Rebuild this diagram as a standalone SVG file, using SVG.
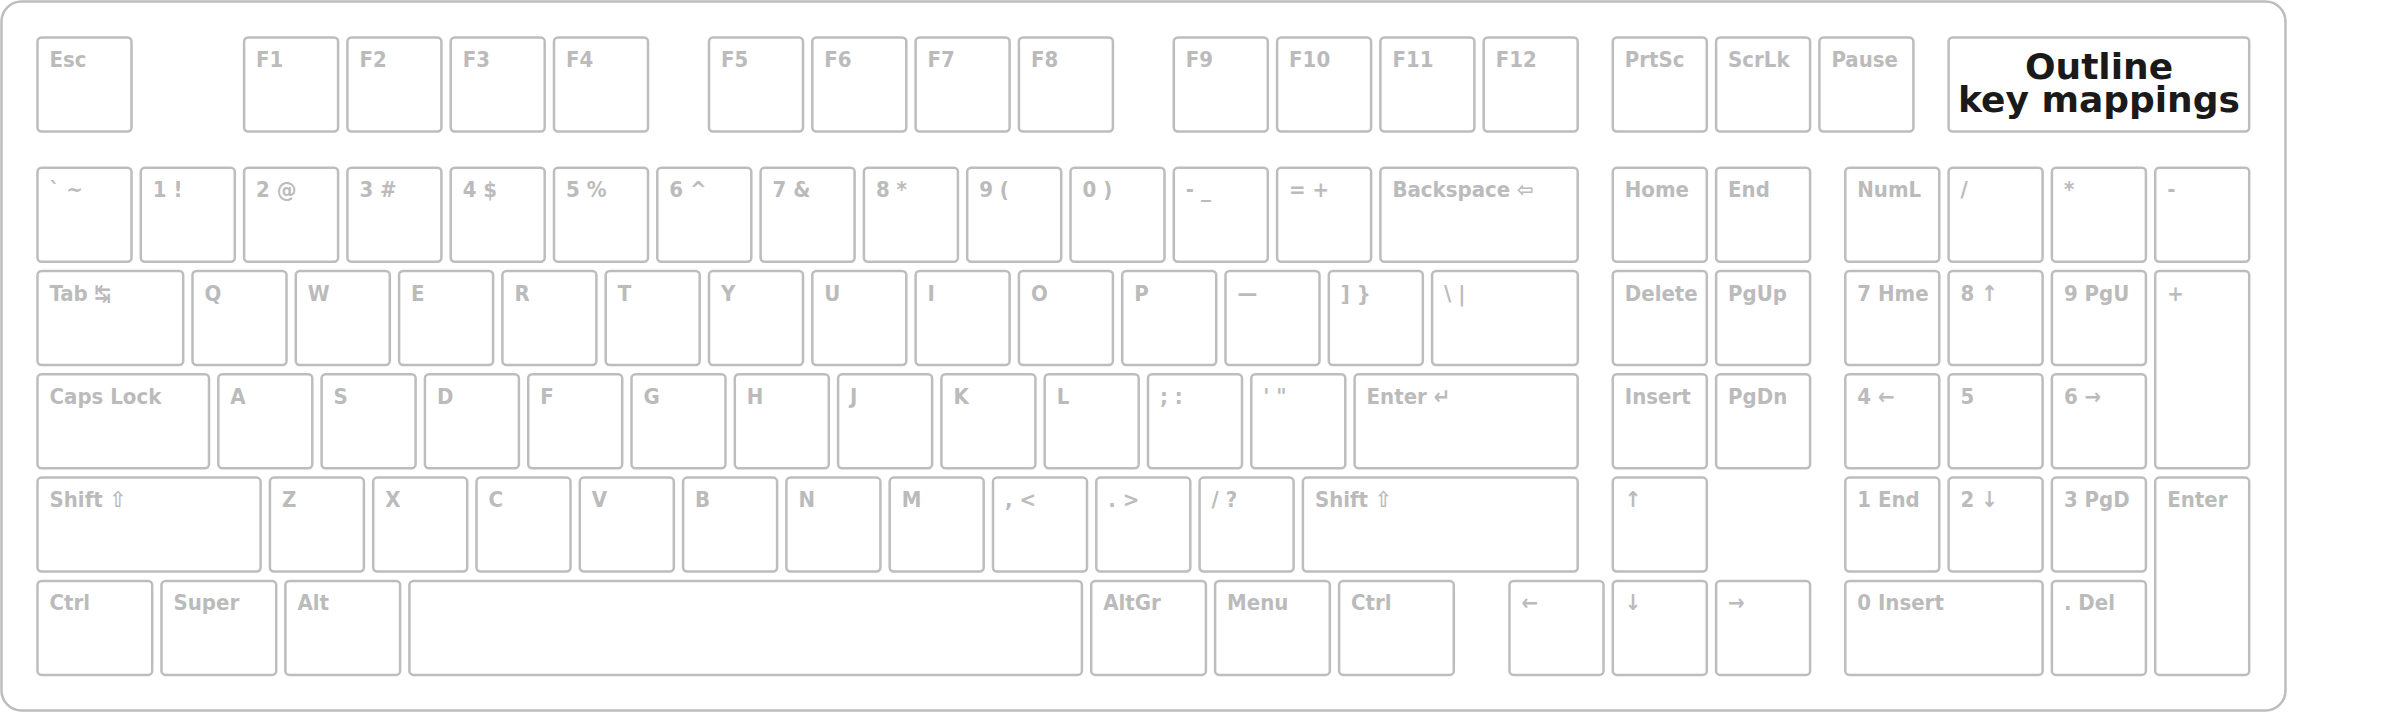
<svg xmlns="http://www.w3.org/2000/svg" width="2400" height="713" viewBox="0 0 2400 713">
<style>
.k rect{fill:#ffffff;stroke:#bdbdbd;stroke-width:2.5}
.k text{font-family:"DejaVu Sans Condensed","DejaVu Sans","Liberation Sans",sans-serif;font-stretch:condensed;font-weight:bold;font-size:22px;fill:#bbbbbb}
.title text{font-family:"DejaVu Sans","Liberation Sans",sans-serif;font-stretch:normal;font-weight:bold;font-size:36px;fill:#1a1a1a;text-anchor:middle}
</style>
<rect width="2400" height="713" fill="#ffffff"/>
<rect id="keyboard" x="1.5" y="1.5" width="2284" height="709" rx="20" fill="#ffffff" stroke="#bdbdbd" stroke-width="2.5"/>
<g id="connectors"/>
<!-- Function row -->
<g id="key-esc" class="k"><rect x="37.5" y="37.5" width="94" height="94" rx="4"/><text x="49.5" y="67">Esc</text></g>
<g id="key-f1" class="k"><rect x="244.1" y="37.5" width="94" height="94" rx="4"/><text x="256.1" y="67">F1</text></g>
<g id="key-f2" class="k"><rect x="347.4" y="37.5" width="94" height="94" rx="4"/><text x="359.4" y="67">F2</text></g>
<g id="key-f3" class="k"><rect x="450.7" y="37.5" width="94" height="94" rx="4"/><text x="462.7" y="67">F3</text></g>
<g id="key-f4" class="k"><rect x="554" y="37.5" width="94" height="94" rx="4"/><text x="566" y="67">F4</text></g>
<g id="key-f5" class="k"><rect x="709" y="37.5" width="94" height="94" rx="4"/><text x="721" y="67">F5</text></g>
<g id="key-f6" class="k"><rect x="812.3" y="37.5" width="94" height="94" rx="4"/><text x="824.3" y="67">F6</text></g>
<g id="key-f7" class="k"><rect x="915.6" y="37.5" width="94" height="94" rx="4"/><text x="927.6" y="67">F7</text></g>
<g id="key-f8" class="k"><rect x="1018.9" y="37.5" width="94" height="94" rx="4"/><text x="1030.9" y="67">F8</text></g>
<g id="key-f9" class="k"><rect x="1173.8" y="37.5" width="94" height="94" rx="4"/><text x="1185.8" y="67">F9</text></g>
<g id="key-f10" class="k"><rect x="1277.1" y="37.5" width="94" height="94" rx="4"/><text x="1289.1" y="67">F10</text></g>
<g id="key-f11" class="k"><rect x="1380.4" y="37.5" width="94" height="94" rx="4"/><text x="1392.4" y="67">F11</text></g>
<g id="key-f12" class="k"><rect x="1483.7" y="37.5" width="94" height="94" rx="4"/><text x="1495.7" y="67">F12</text></g>
<g id="key-prtsc" class="k"><rect x="1612.8" y="37.5" width="94" height="94" rx="4"/><text x="1624.8" y="67">PrtSc</text></g>
<g id="key-scrlk" class="k"><rect x="1716.1" y="37.5" width="94" height="94" rx="4"/><text x="1728.1" y="67">ScrLk</text></g>
<g id="key-pause" class="k"><rect x="1819.4" y="37.5" width="94" height="94" rx="4"/><text x="1831.4" y="67">Pause</text></g>
<g id="title" class="k title"><rect x="1948.6" y="37.5" width="300.6" height="94" rx="4"/><text x="2099" y="79">Outline</text><text x="2099" y="112">key mappings</text></g>
<!-- Number row -->
<g id="key-grave" class="k"><rect x="37.5" y="167.7" width="94" height="94" rx="4"/><text x="49.5" y="197.2">` ~</text></g>
<g id="key-1" class="k"><rect x="140.8" y="167.7" width="94" height="94" rx="4"/><text x="152.8" y="197.2">1 !</text></g>
<g id="key-2" class="k"><rect x="244.1" y="167.7" width="94" height="94" rx="4"/><text x="256.1" y="197.2">2 @</text></g>
<g id="key-3" class="k"><rect x="347.4" y="167.7" width="94" height="94" rx="4"/><text x="359.4" y="197.2">3 #</text></g>
<g id="key-4" class="k"><rect x="450.7" y="167.7" width="94" height="94" rx="4"/><text x="462.7" y="197.2">4 $</text></g>
<g id="key-5" class="k"><rect x="554" y="167.7" width="94" height="94" rx="4"/><text x="566" y="197.2">5 %</text></g>
<g id="key-6" class="k"><rect x="657.3" y="167.7" width="94" height="94" rx="4"/><text x="669.3" y="197.2">6 ^</text></g>
<g id="key-7" class="k"><rect x="760.6" y="167.7" width="94" height="94" rx="4"/><text x="772.6" y="197.2">7 &amp;</text></g>
<g id="key-8" class="k"><rect x="863.9" y="167.7" width="94" height="94" rx="4"/><text x="875.9" y="197.2">8 *</text></g>
<g id="key-9" class="k"><rect x="967.2" y="167.7" width="94" height="94" rx="4"/><text x="979.2" y="197.2">9 (</text></g>
<g id="key-0" class="k"><rect x="1070.5" y="167.7" width="94" height="94" rx="4"/><text x="1082.5" y="197.2">0 )</text></g>
<g id="key-minus" class="k"><rect x="1173.8" y="167.7" width="94" height="94" rx="4"/><text x="1185.8" y="197.2">- _</text></g>
<g id="key-equal" class="k"><rect x="1277.1" y="167.7" width="94" height="94" rx="4"/><text x="1289.1" y="197.2">= +</text></g>
<g id="key-backspace" class="k"><rect x="1380.4" y="167.7" width="197.3" height="94" rx="4"/><text x="1392.4" y="197.2">Backspace ⇦</text></g>
<g id="key-home" class="k"><rect x="1612.8" y="167.7" width="94" height="94" rx="4"/><text x="1624.8" y="197.2">Home</text></g>
<g id="key-end" class="k"><rect x="1716.1" y="167.7" width="94" height="94" rx="4"/><text x="1728.1" y="197.2">End</text></g>
<g id="key-numlock" class="k"><rect x="1845.3" y="167.7" width="94" height="94" rx="4"/><text x="1857.3" y="197.2">NumL</text></g>
<g id="key-kpdiv" class="k"><rect x="1948.6" y="167.7" width="94" height="94" rx="4"/><text x="1960.6" y="197.2">/</text></g>
<g id="key-kpmul" class="k"><rect x="2051.9" y="167.7" width="94" height="94" rx="4"/><text x="2063.9" y="197.2">*</text></g>
<g id="key-kpminus" class="k"><rect x="2155.2" y="167.7" width="94" height="94" rx="4"/><text x="2167.2" y="197.2">-</text></g>
<!-- Tab row -->
<g id="key-tab" class="k"><rect x="37.5" y="271" width="145.7" height="94" rx="4"/><text x="49.5" y="300.5">Tab ↹</text></g>
<g id="key-q" class="k"><rect x="192.5" y="271" width="94" height="94" rx="4"/><text x="204.5" y="300.5">Q</text></g>
<g id="key-w" class="k"><rect x="295.8" y="271" width="94" height="94" rx="4"/><text x="307.8" y="300.5">W</text></g>
<g id="key-e" class="k"><rect x="399.1" y="271" width="94" height="94" rx="4"/><text x="411.1" y="300.5">E</text></g>
<g id="key-r" class="k"><rect x="502.4" y="271" width="94" height="94" rx="4"/><text x="514.4" y="300.5">R</text></g>
<g id="key-t" class="k"><rect x="605.7" y="271" width="94" height="94" rx="4"/><text x="617.7" y="300.5">T</text></g>
<g id="key-y" class="k"><rect x="709" y="271" width="94" height="94" rx="4"/><text x="721" y="300.5">Y</text></g>
<g id="key-u" class="k"><rect x="812.3" y="271" width="94" height="94" rx="4"/><text x="824.3" y="300.5">U</text></g>
<g id="key-i" class="k"><rect x="915.6" y="271" width="94" height="94" rx="4"/><text x="927.6" y="300.5">I</text></g>
<g id="key-o" class="k"><rect x="1018.9" y="271" width="94" height="94" rx="4"/><text x="1030.9" y="300.5">O</text></g>
<g id="key-p" class="k"><rect x="1122.2" y="271" width="94" height="94" rx="4"/><text x="1134.2" y="300.5">P</text></g>
<g id="key-lbracket" class="k"><rect x="1225.5" y="271" width="94" height="94" rx="4"/><text x="1237.5" y="300.5">—</text></g>
<g id="key-rbracket" class="k"><rect x="1328.8" y="271" width="94" height="94" rx="4"/><text x="1340.8" y="300.5">] }</text></g>
<g id="key-backslash" class="k"><rect x="1432.1" y="271" width="145.7" height="94" rx="4"/><text x="1444.1" y="300.5">\ |</text></g>
<g id="key-delete" class="k"><rect x="1612.8" y="271" width="94" height="94" rx="4"/><text x="1624.8" y="300.5">Delete</text></g>
<g id="key-pgup" class="k"><rect x="1716.1" y="271" width="94" height="94" rx="4"/><text x="1728.1" y="300.5">PgUp</text></g>
<g id="key-kp7" class="k"><rect x="1845.3" y="271" width="94" height="94" rx="4"/><text x="1857.3" y="300.5">7 Hme</text></g>
<g id="key-kp8" class="k"><rect x="1948.6" y="271" width="94" height="94" rx="4"/><text x="1960.6" y="300.5">8 ↑</text></g>
<g id="key-kp9" class="k"><rect x="2051.9" y="271" width="94" height="94" rx="4"/><text x="2063.9" y="300.5">9 PgU</text></g>
<g id="key-kpplus" class="k"><rect x="2155.2" y="271" width="94" height="197.3" rx="4"/><text x="2167.2" y="300.5">+</text></g>
<!-- Caps row -->
<g id="key-caps" class="k"><rect x="37.5" y="374.3" width="171.5" height="94" rx="4"/><text x="49.5" y="403.8">Caps Lock</text></g>
<g id="key-a" class="k"><rect x="218.3" y="374.3" width="94" height="94" rx="4"/><text x="230.3" y="403.8">A</text></g>
<g id="key-s" class="k"><rect x="321.6" y="374.3" width="94" height="94" rx="4"/><text x="333.6" y="403.8">S</text></g>
<g id="key-d" class="k"><rect x="424.9" y="374.3" width="94" height="94" rx="4"/><text x="436.9" y="403.8">D</text></g>
<g id="key-f" class="k"><rect x="528.2" y="374.3" width="94" height="94" rx="4"/><text x="540.2" y="403.8">F</text></g>
<g id="key-g" class="k"><rect x="631.5" y="374.3" width="94" height="94" rx="4"/><text x="643.5" y="403.8">G</text></g>
<g id="key-h" class="k"><rect x="734.8" y="374.3" width="94" height="94" rx="4"/><text x="746.8" y="403.8">H</text></g>
<g id="key-j" class="k"><rect x="838.1" y="374.3" width="94" height="94" rx="4"/><text x="850.1" y="403.8">J</text></g>
<g id="key-k" class="k"><rect x="941.4" y="374.3" width="94" height="94" rx="4"/><text x="953.4" y="403.8">K</text></g>
<g id="key-l" class="k"><rect x="1044.7" y="374.3" width="94" height="94" rx="4"/><text x="1056.7" y="403.8">L</text></g>
<g id="key-semicolon" class="k"><rect x="1148" y="374.3" width="94" height="94" rx="4"/><text x="1160" y="403.8">; :</text></g>
<g id="key-quote" class="k"><rect x="1251.3" y="374.3" width="94" height="94" rx="4"/><text x="1263.3" y="403.8">' "</text></g>
<g id="key-enter" class="k"><rect x="1354.6" y="374.3" width="223.1" height="94" rx="4"/><text x="1366.6" y="403.8">Enter ↵</text></g>
<g id="key-insert" class="k"><rect x="1612.8" y="374.3" width="94" height="94" rx="4"/><text x="1624.8" y="403.8">Insert</text></g>
<g id="key-pgdn" class="k"><rect x="1716.1" y="374.3" width="94" height="94" rx="4"/><text x="1728.1" y="403.8">PgDn</text></g>
<g id="key-kp4" class="k"><rect x="1845.3" y="374.3" width="94" height="94" rx="4"/><text x="1857.3" y="403.8">4 ←</text></g>
<g id="key-kp5" class="k"><rect x="1948.6" y="374.3" width="94" height="94" rx="4"/><text x="1960.6" y="403.8">5</text></g>
<g id="key-kp6" class="k"><rect x="2051.9" y="374.3" width="94" height="94" rx="4"/><text x="2063.9" y="403.8">6 →</text></g>
<!-- Shift row -->
<g id="key-lshift" class="k"><rect x="37.5" y="477.6" width="223.1" height="94" rx="4"/><text x="49.5" y="507.1">Shift ⇧</text></g>
<g id="key-z" class="k"><rect x="269.9" y="477.6" width="94" height="94" rx="4"/><text x="281.9" y="507.1">Z</text></g>
<g id="key-x" class="k"><rect x="373.2" y="477.6" width="94" height="94" rx="4"/><text x="385.2" y="507.1">X</text></g>
<g id="key-c" class="k"><rect x="476.5" y="477.6" width="94" height="94" rx="4"/><text x="488.5" y="507.1">C</text></g>
<g id="key-v" class="k"><rect x="579.8" y="477.6" width="94" height="94" rx="4"/><text x="591.8" y="507.1">V</text></g>
<g id="key-b" class="k"><rect x="683.1" y="477.6" width="94" height="94" rx="4"/><text x="695.1" y="507.1">B</text></g>
<g id="key-n" class="k"><rect x="786.4" y="477.6" width="94" height="94" rx="4"/><text x="798.4" y="507.1">N</text></g>
<g id="key-m" class="k"><rect x="889.7" y="477.6" width="94" height="94" rx="4"/><text x="901.7" y="507.1">M</text></g>
<g id="key-comma" class="k"><rect x="993" y="477.6" width="94" height="94" rx="4"/><text x="1005" y="507.1">, &lt;</text></g>
<g id="key-period" class="k"><rect x="1096.3" y="477.6" width="94" height="94" rx="4"/><text x="1108.3" y="507.1">. &gt;</text></g>
<g id="key-slash" class="k"><rect x="1199.6" y="477.6" width="94" height="94" rx="4"/><text x="1211.6" y="507.1">/ ?</text></g>
<g id="key-rshift" class="k"><rect x="1302.9" y="477.6" width="274.8" height="94" rx="4"/><text x="1314.9" y="507.1">Shift ⇧</text></g>
<g id="key-up" class="k"><rect x="1612.8" y="477.6" width="94" height="94" rx="4"/><text x="1624.8" y="507.1">↑</text></g>
<g id="key-kp1" class="k"><rect x="1845.3" y="477.6" width="94" height="94" rx="4"/><text x="1857.3" y="507.1">1 End</text></g>
<g id="key-kp2" class="k"><rect x="1948.6" y="477.6" width="94" height="94" rx="4"/><text x="1960.6" y="507.1">2 ↓</text></g>
<g id="key-kp3" class="k"><rect x="2051.9" y="477.6" width="94" height="94" rx="4"/><text x="2063.9" y="507.1">3 PgD</text></g>
<g id="key-kpenter" class="k"><rect x="2155.2" y="477.6" width="94" height="197.3" rx="4"/><text x="2167.2" y="507.1">Enter</text></g>
<!-- Bottom row -->
<g id="key-lctrl" class="k"><rect x="37.5" y="580.9" width="114.7" height="94" rx="4"/><text x="49.5" y="610.4">Ctrl</text></g>
<g id="key-super" class="k"><rect x="161.5" y="580.9" width="114.7" height="94" rx="4"/><text x="173.5" y="610.4">Super</text></g>
<g id="key-alt" class="k"><rect x="285.4" y="580.9" width="114.7" height="94" rx="4"/><text x="297.4" y="610.4">Alt</text></g>
<g id="key-space" class="k"><rect x="409.4" y="580.9" width="672.5" height="94" rx="4"/></g>
<g id="key-altgr" class="k"><rect x="1091.2" y="580.9" width="114.7" height="94" rx="4"/><text x="1103.2" y="610.4">AltGr</text></g>
<g id="key-menu" class="k"><rect x="1215.1" y="580.9" width="114.7" height="94" rx="4"/><text x="1227.1" y="610.4">Menu</text></g>
<g id="key-rctrl" class="k"><rect x="1339.1" y="580.9" width="114.7" height="94" rx="4"/><text x="1351.1" y="610.4">Ctrl</text></g>
<g id="key-left" class="k"><rect x="1509.5" y="580.9" width="94" height="94" rx="4"/><text x="1521.5" y="610.4">←</text></g>
<g id="key-down" class="k"><rect x="1612.8" y="580.9" width="94" height="94" rx="4"/><text x="1624.8" y="610.4">↓</text></g>
<g id="key-right" class="k"><rect x="1716.1" y="580.9" width="94" height="94" rx="4"/><text x="1728.1" y="610.4">→</text></g>
<g id="key-kp0" class="k"><rect x="1845.3" y="580.9" width="197.3" height="94" rx="4"/><text x="1857.3" y="610.4">0 Insert</text></g>
<g id="key-kpdot" class="k"><rect x="2051.9" y="580.9" width="94" height="94" rx="4"/><text x="2063.9" y="610.4">. Del</text></g>
</svg>
